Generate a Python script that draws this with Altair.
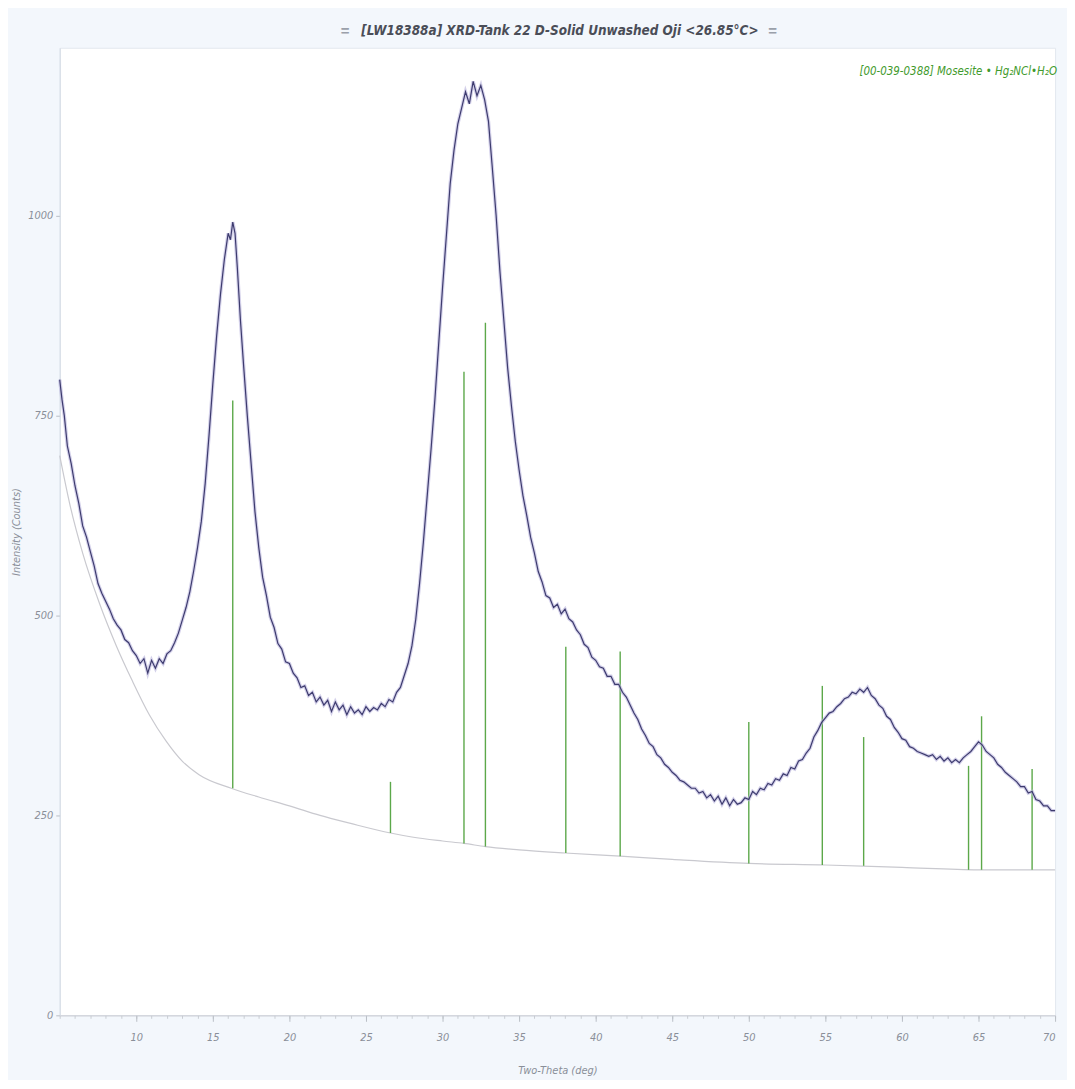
import altair as alt
import pandas as pd

# ---------------- data ----------------
two_theta = [5.00, 5.15, 5.30, 5.50, 5.75, 6.00, 6.25, 6.50, 6.75, 7.00, 7.25, 7.50, 7.75,
             8.00, 8.25, 8.50, 8.75, 9.00, 9.25, 9.50, 9.75, 10.00, 10.25, 10.50, 10.75,
             11.00, 11.25, 11.50, 11.75, 12.00, 12.25, 12.50, 12.75, 13.00, 13.25, 13.50,
             13.75, 14.00, 14.25, 14.50, 14.75, 15.00, 15.25, 15.50, 15.75, 16.00, 16.15,
             16.30, 16.45, 16.60, 16.80, 17.00, 17.25, 17.50, 17.75, 18.00, 18.25, 18.50,
             18.75, 19.00, 19.25, 19.50, 19.75, 20.00, 20.25, 20.50, 20.75, 21.00, 21.25,
             21.50, 21.75, 22.00, 22.25, 22.50, 22.75, 23.00, 23.25, 23.50, 23.75, 24.00,
             24.25, 24.50, 24.75, 25.00, 25.25, 25.50, 25.75, 26.00, 26.25, 26.50, 26.75,
             27.00, 27.25, 27.50, 27.75, 28.00, 28.25, 28.50, 28.75, 29.00, 29.25, 29.50,
             29.75, 30.00, 30.25, 30.50, 30.75, 31.00, 31.25, 31.50, 31.75, 32.00, 32.25,
             32.50, 32.75, 33.00, 33.25, 33.50, 33.75, 34.00, 34.25, 34.50, 34.75, 35.00,
             35.25, 35.50, 35.75, 36.00, 36.25, 36.50, 36.75, 37.00, 37.25, 37.50, 37.75,
             38.00, 38.25, 38.50, 38.75, 39.00, 39.25, 39.50, 39.75, 40.00, 40.25, 40.50,
             40.75, 41.00, 41.25, 41.50, 41.75, 42.00, 42.25, 42.50, 42.75, 43.00, 43.25,
             43.50, 43.75, 44.00, 44.25, 44.50, 44.75, 45.00, 45.25, 45.50, 45.75, 46.00,
             46.25, 46.50, 46.75, 47.00, 47.25, 47.50, 47.75, 48.00, 48.25, 48.50, 48.75,
             49.00, 49.25, 49.50, 49.75, 50.00, 50.25, 50.50, 50.75, 51.00, 51.25, 51.50,
             51.75, 52.00, 52.25, 52.50, 52.75, 53.00, 53.25, 53.50, 53.75, 54.00, 54.25,
             54.50, 54.75, 55.00, 55.25, 55.50, 55.75, 56.00, 56.25, 56.50, 56.75, 57.00,
             57.25, 57.50, 57.75, 58.00, 58.25, 58.50, 58.75, 59.00, 59.25, 59.50, 59.75,
             60.00, 60.25, 60.50, 60.75, 61.00, 61.25, 61.50, 61.75, 62.00, 62.25, 62.50,
             62.75, 63.00, 63.25, 63.50, 63.75, 64.00, 64.25, 64.50, 64.75, 65.00, 65.25,
             65.50, 65.75, 66.00, 66.25, 66.50, 66.75, 67.00, 67.25, 67.50, 67.75, 68.00,
             68.25, 68.50, 68.75, 69.00, 69.25, 69.50, 69.75, 70.00]

counts = [795, 770, 750, 712, 690, 662, 640, 612, 598, 580, 562, 540, 528,
          518, 508, 496, 488, 482, 470, 466, 456, 450, 440, 446, 428,
          444, 434, 446, 440, 452, 456, 466, 478, 494, 510, 530,
          556, 585, 618, 665, 725, 790, 850, 902, 945, 978, 970,
          992, 978, 935, 870, 815, 750, 690, 630, 585, 548, 525,
          498, 485, 465, 458, 442, 440, 428, 422, 410, 412, 400,
          404, 392, 398, 388, 394, 380, 392, 382, 388, 376, 386,
          378, 382, 376, 386, 380, 385, 382, 390, 386, 395, 392,
          404, 410, 425, 440, 462, 495, 540, 592, 650, 708, 770,
          840, 910, 975, 1040, 1082, 1115, 1135, 1155, 1140, 1168, 1150,
          1163, 1145, 1118, 1060, 1000, 930, 870, 810, 762, 718, 682,
          650, 625, 598, 578, 555, 542, 525, 522, 510, 514, 502,
          508, 496, 492, 482, 476, 464, 460, 448, 444, 436, 434,
          424, 424, 414, 414, 404, 398, 388, 378, 370, 358, 350,
          340, 336, 326, 322, 314, 310, 304, 300, 294, 292, 288,
          284, 284, 278, 280, 272, 276, 268, 274, 264, 272, 262,
          270, 264, 266, 272, 270, 280, 276, 284, 282, 290, 288,
          296, 294, 302, 300, 310, 308, 318, 320, 328, 334, 348,
          356, 366, 372, 378, 380, 386, 390, 396, 398, 404, 402,
          408, 404, 410, 400, 396, 388, 384, 374, 370, 360, 354,
          346, 344, 336, 334, 330, 328, 326, 324, 326, 320, 324,
          318, 322, 316, 320, 316, 322, 326, 330, 336, 342, 338,
          330, 326, 322, 314, 310, 304, 300, 296, 292, 286, 286,
          278, 280, 270, 268, 262, 262, 256, 256]

bg_theta = [5.0, 5.65, 6.5, 7.6, 8.7, 9.75, 10.85, 11.95, 13.0, 14.1, 16.2, 18.0, 20.0,
            22.0, 24.0, 26.6, 28.0, 30.0, 31.4, 32.8, 35.0, 38.0, 41.6, 45.0, 50.0,
            55.0, 60.0, 65.0, 70.0]
bg_counts = [700, 640, 578, 515, 462, 418, 376, 343, 318, 301, 284, 273, 262,
             250, 240, 228, 223, 218, 215, 211, 207, 203, 199, 195, 190,
             188, 185, 182, 182]

stick_theta = [16.3, 26.6, 31.4, 32.8, 38.05, 41.6, 50.0, 54.8, 57.5, 64.35, 65.2, 68.5]
stick_top = [769, 292, 805, 866, 461, 455, 367, 412, 348, 312, 374, 308]
stick_base = [284, 228, 215, 211, 203, 199, 190, 188, 187, 182, 182, 182]

x_major = [10, 15, 20, 25, 30, 35, 40, 45, 50, 55, 60, 65, 70]
x_minor = list(range(5, 71))
y_major = [0, 250, 500, 750, 1000]

title_text = "[LW18388a] XRD-Tank 22 D-Solid Unwashed Oji <26.85°C>"
legend_text = "[00-039-0388] Mosesite • Hg₂NCl•H₂O"

# ---------------- tables ----------------
scan = pd.DataFrame({"theta": two_theta, "counts": counts})
bg = pd.DataFrame({"theta": bg_theta, "counts": bg_counts})
sticks = pd.DataFrame({"theta": stick_theta, "top": stick_top, "base": stick_base})

FONT = "Liberation Sans Narrow, Arial Narrow, DejaVu Sans Condensed, Liberation Sans, sans-serif"
LBL = "#8a8f99"

xscale = alt.Scale(domain=[5, 70], nice=False, zero=False)
yscale = alt.Scale(domain=[0, 1210], nice=False)

x_axis = alt.Axis(values=x_major, orient="bottom", title="Two-Theta (deg)", labelFont=FONT,
                  labelFontSize=11, labelColor=LBL, titleFont=FONT, titleFontSize=11,
                  titleFontStyle="italic", titleFontWeight="normal", titleColor=LBL,
                  titlePadding=22, labelPadding=10, tickSize=6, tickColor="#b9bec6",
                  domainColor="#c8ccd2", grid=False, labelFontStyle="italic")
y_axis = alt.Axis(values=y_major, orient="left", format="d", title="Intensity (Counts)",
                  labelFont=FONT, labelFontSize=11, labelColor=LBL, titleFont=FONT,
                  titleFontSize=11, titleFontStyle="italic", titleFontWeight="normal",
                  titleColor=LBL, titlePadding=6, labelPadding=3, tickSize=4,
                  tickColor="#b9bec6", domainColor="#d4dbe4", grid=False,
                  labelFontStyle="italic")

minor_axis = alt.Axis(values=x_minor, orient="bottom", labels=False, title=None, tickSize=3,
                      tickColor="#c9cdd3", domain=False, grid=False)

bg_line = alt.Chart(bg).mark_line(color="#c9c9cf", strokeWidth=1.2, interpolate="monotone").encode(
    x=alt.X("theta:Q", scale=xscale, axis=minor_axis),
    y=alt.Y("counts:Q", scale=yscale, axis=y_axis),
)

stick_marks = alt.Chart(sticks).mark_rule(color="#5ca84a", strokeWidth=1.4).encode(
    x=alt.X("theta:Q", scale=xscale, axis=None),
    y=alt.Y("top:Q", scale=yscale, axis=y_axis),
    y2="base:Q",
)

halo = alt.Chart(scan).mark_line(color="#b7b3dc", strokeWidth=3.5, opacity=0.6).encode(
    x=alt.X("theta:Q", scale=xscale, axis=None),
    y=alt.Y("counts:Q", scale=yscale, axis=y_axis),
)

main = alt.Chart(scan).mark_line(color="#3d3b6e", strokeWidth=1.2).encode(
    x=alt.X("theta:Q", scale=xscale, axis=x_axis),
    y=alt.Y("counts:Q", scale=yscale, axis=y_axis),
)

legend = alt.Chart(pd.DataFrame({"t": [legend_text]})).mark_text(
    align="right", baseline="middle", font=FONT, fontSize=11.5, fontStyle="italic",
    color="#3f9a2c").encode(x=alt.value(1003), y=alt.value(24), text="t:N")

title_mark = alt.Chart(pd.DataFrame({"t": [title_text]})).mark_text(
    align="center", baseline="middle", font=FONT, fontSize=13.5, fontStyle="italic",
    fontWeight="bold", color="#4a4d57").encode(x=alt.value(503), y=alt.value(-17), text="t:N")

eq_left = alt.Chart(pd.DataFrame({"t": ["="]})).mark_text(
    align="center", baseline="middle", fontSize=15, fontWeight="bold",
    color="#9aa0aa").encode(x=alt.value(287), y=alt.value(-17), text="t:N")
eq_right = alt.Chart(pd.DataFrame({"t": ["="]})).mark_text(
    align="center", baseline="middle", fontSize=15, fontWeight="bold",
    color="#9aa0aa").encode(x=alt.value(717), y=alt.value(-17), text="t:N")

chart = alt.layer(bg_line, stick_marks, halo, main, legend, title_mark, eq_left, eq_right).resolve_axis(
    x="independent"
).properties(
    width=1001, height=973,
    autosize=alt.AutoSizeParams(type="none"),
    padding={"left": 52, "top": 37, "right": 12, "bottom": 62},
    background="#f3f7fc",
).configure_view(fill="#ffffff", stroke="#e3e8ef", strokeWidth=1)

chart.save("out.html", embed_options={"renderer": "svg", "actions": False})
